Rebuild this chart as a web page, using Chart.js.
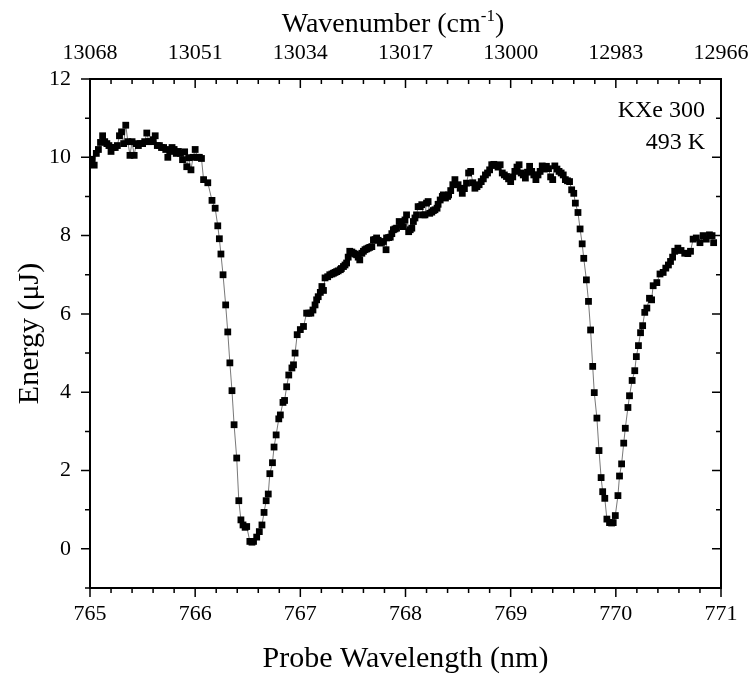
<!DOCTYPE html>
<html>
<head>
<meta charset="utf-8">
<script src="https://cdn.jsdelivr.net/npm/chart.js@4.4.0/dist/chart.umd.min.js"></script>
<style>
  body { margin: 0; background: #fff; }
</style>
</head>
<body>
<canvas id="chart" width="754" height="678"></canvas>
<script>
// probe wavelength (nm) and pulse energy (uJ)
const wavelength = [
  765.02, 765.04, 765.06, 765.08, 765.10, 765.12, 765.14, 765.16, 765.18, 765.20,
  765.22, 765.24, 765.26, 765.28, 765.30, 765.32, 765.34, 765.36, 765.38, 765.40,
  765.42, 765.44, 765.46, 765.48, 765.50, 765.52, 765.54, 765.56, 765.58, 765.60,
  765.62, 765.64, 765.66, 765.68, 765.70, 765.72, 765.74, 765.76, 765.78, 765.80,
  765.82, 765.84, 765.86, 765.88, 765.90, 765.92, 765.94, 765.96, 765.98, 766.00,
  766.02, 766.04, 766.06,
  766.08, 766.12, 766.16, 766.19, 766.215, 766.23, 766.245, 766.265, 766.29, 766.31,
  766.33, 766.35, 766.37, 766.395, 766.415, 766.435, 766.455, 766.475, 766.49, 766.52,
  766.54, 766.555, 766.585, 766.61, 766.635, 766.655, 766.675, 766.695, 766.71, 766.735,
  766.75, 766.77, 766.795, 766.81, 766.835, 766.85, 766.87, 766.89, 766.92, 766.935,
  766.95, 766.97, 767.00, 767.03, 767.06, 767.08, 767.10, 767.12, 767.14, 767.155,
  767.17, 767.19, 767.205, 767.22, 767.235, 767.26, 767.28, 767.30, 767.315, 767.33,
  767.345, 767.36, 767.38, 767.39, 767.41, 767.425, 767.44, 767.455, 767.47, 767.49,
  767.505, 767.52, 767.535, 767.55, 767.565, 767.585, 767.60, 767.615, 767.63, 767.645,
  767.66, 767.68, 767.695, 767.71, 767.725, 767.74, 767.76, 767.775, 767.79, 767.815,
  767.82, 767.84, 767.855, 767.87, 767.885, 767.90, 767.915, 767.94, 767.96, 767.98,
  767.995, 768.01, 768.03, 768.045, 768.06, 768.075, 768.09, 768.105, 768.12, 768.14,
  768.155, 768.17, 768.185, 768.20, 768.215, 768.23, 768.25, 768.265, 768.28, 768.30,
  768.31, 768.33, 768.35, 768.36, 768.38, 768.40, 768.41, 768.43, 768.45, 768.47,
  768.50, 768.52, 768.54, 768.56, 768.58, 768.60, 768.62, 768.64, 768.66, 768.68,
  768.70, 768.72, 768.74, 768.76, 768.78, 768.80, 768.82, 768.84, 768.86, 768.88,
  768.90, 768.92, 768.94, 768.96, 768.98, 769.00, 769.02, 769.04, 769.06, 769.08,
  769.10, 769.12, 769.14, 769.16, 769.18, 769.20, 769.22, 769.24, 769.26, 769.28,
  769.30, 769.32, 769.34, 769.36, 769.38, 769.40, 769.42, 769.44, 769.46, 769.48,
  769.50, 769.52, 769.54, 769.56, 769.58, 769.60, 769.615, 769.64, 769.66, 769.68,
  769.695, 769.72, 769.74, 769.76, 769.78, 769.795, 769.82, 769.84, 769.86, 769.875,
  769.895, 769.915, 769.94, 769.96, 769.975, 769.995, 770.02, 770.035, 770.055, 770.075,
  770.09, 770.115, 770.13, 770.155, 770.18, 770.195, 770.215, 770.235, 770.255, 770.275,
  770.295, 770.32, 770.34, 770.355, 770.39, 770.42, 770.45, 770.475, 770.50, 770.52,
  770.54, 770.56, 770.59, 770.62, 770.655, 770.685, 770.71, 770.735, 770.765, 770.80,
  770.83, 770.86, 770.89, 770.915, 770.93
]
const energy = [
  9.95, 9.80, 10.10, 10.20, 10.38, 10.55, 10.40, 10.35, 10.30, 10.15,
  10.25, 10.25, 10.30, 10.55, 10.65, 10.35, 10.82, 10.40, 10.05, 10.40,
  10.05, 10.35, 10.30, 10.35, 10.35, 10.40, 10.62, 10.40, 10.40, 10.45,
  10.55, 10.30, 10.30, 10.25, 10.25, 10.20, 10.00, 10.15, 10.25, 10.20,
  10.10, 10.15, 10.10, 9.94, 10.14, 9.76, 9.99, 9.68, 10.00, 10.20,
  10.00, 10.00, 9.97,
  9.43, 9.35, 8.90, 8.70, 8.25, 7.92, 7.53, 7.00, 6.23, 5.54,
  4.75, 4.04, 3.17, 2.32, 1.23, 0.74, 0.61, 0.55, 0.57, 0.19,
  0.17, 0.19, 0.30, 0.44, 0.61, 0.93, 1.23, 1.40, 1.92, 2.20,
  2.60, 2.91, 3.32, 3.42, 3.74, 3.79, 4.14, 4.44, 4.62, 4.70,
  5.00, 5.47, 5.60, 5.68, 6.02, 6.02, 6.02, 6.10, 6.23, 6.36,
  6.44, 6.55, 6.70, 6.60, 6.92, 6.95, 7.00, 7.02, 7.04, 7.06,
  7.08, 7.10, 7.13, 7.16, 7.21, 7.25, 7.30, 7.45, 7.60, 7.58,
  7.55, 7.53, 7.51, 7.45, 7.38, 7.55, 7.60, 7.64, 7.66, 7.68,
  7.70, 7.72, 7.89, 7.90, 7.94, 7.88, 7.81, 7.83, 7.85, 7.64,
  7.94, 7.95, 7.96, 8.05, 8.15, 8.17, 8.19, 8.36, 8.28, 8.23,
  8.40, 8.53, 8.10, 8.15, 8.19, 8.36, 8.45, 8.53, 8.74, 8.74,
  8.79, 8.53, 8.53, 8.83, 8.87, 8.57, 8.60, 8.64, 8.66, 8.70,
  8.80, 8.91, 9.00, 9.04, 8.96, 9.00, 9.04, 9.15, 9.30, 9.43,
  9.30, 9.21, 9.08, 9.20, 9.34, 9.60, 9.64, 9.35, 9.21, 9.25,
  9.30, 9.38, 9.45, 9.55, 9.60, 9.68, 9.81, 9.82, 9.79, 9.75,
  9.81, 9.60, 9.55, 9.51, 9.45, 9.38, 9.50, 9.64, 9.75, 9.81,
  9.60, 9.55, 9.47, 9.62, 9.77, 9.64, 9.55, 9.43, 9.55, 9.64,
  9.78, 9.70, 9.77, 9.71, 9.50, 9.43, 9.78, 9.70, 9.64, 9.60,
  9.55, 9.43, 9.40, 9.38, 9.17, 9.08, 8.83, 8.59, 8.17, 7.79,
  7.42, 6.87, 6.32, 5.59, 4.66, 3.99, 3.34, 2.51, 1.82, 1.46,
  1.29, 0.76, 0.67, 0.66, 0.67, 0.85, 1.36, 1.86, 2.17, 2.70,
  3.08, 3.61, 3.91, 4.30, 4.55, 4.91, 5.19, 5.52, 5.70, 6.04,
  6.15, 6.40, 6.36, 6.72, 6.80, 7.02, 7.06, 7.17, 7.25, 7.34,
  7.45, 7.60, 7.68, 7.62, 7.55, 7.54, 7.60, 7.91, 7.94, 7.82,
  8.00, 7.91, 8.02, 8.00, 7.82
]

const bottomTicks = [765, 766, 767, 768, 769, 770, 771]
const topTickLabels = ['13068', '13051', '13034', '13017', '13000', '12983', '12966']
const yTicks = [0, 2, 4, 6, 8, 10, 12]
const sampleLabel = ['KXe 300', '493 K']

const serif = '"Liberation Serif", "Times New Roman", serif'
Chart.defaults.font.family = serif
Chart.defaults.color = '#000'

// outer frame ticks (major + minor), labels in the corner and the top title
const frameExtras = {
  id: 'frameExtras',
  afterDraw(chart) {
    const ctx = chart.ctx
    const a = chart.chartArea
    const sx = chart.scales.x
    const sy = chart.scales.y
    ctx.save()
    ctx.strokeStyle = '#000'
    ctx.lineWidth = 1.5
    ctx.beginPath()
    for (let i = 0; i <= 30; i++) {
      const px = sx.getPixelForValue(765 + i * 0.2)
      const len = i % 5 === 0 ? 9 : 5
      ctx.moveTo(px, a.bottom)
      ctx.lineTo(px, a.bottom + len)
      ctx.moveTo(px, a.top)
      ctx.lineTo(px, a.top + len)
    }
    for (let v = -1; v <= 12; v++) {
      const py = sy.getPixelForValue(v)
      const len = v % 2 === 0 ? 9 : 5
      ctx.moveTo(a.left, py)
      ctx.lineTo(a.left - len, py)
      ctx.moveTo(a.right, py)
      ctx.lineTo(a.right - len, py)
    }
    ctx.stroke()

    ctx.fillStyle = '#000'
    ctx.font = '24px ' + serif
    ctx.textAlign = 'right'
    ctx.textBaseline = 'alphabetic'
    ctx.fillText(sampleLabel[0], 705, 117)
    ctx.fillText(sampleLabel[1], 705, 149)

    // "Wavenumber (cm-1)" with a raised -1
    const big = '28px ' + serif
    const small = '17px ' + serif
    const part1 = 'Wavenumber (cm'
    const sup = '-1'
    const part2 = ')'
    ctx.font = big
    const w1 = ctx.measureText(part1).width
    const w3 = ctx.measureText(part2).width
    ctx.font = small
    const w2 = ctx.measureText(sup).width
    let x0 = 393 - (w1 + w2 + w3) / 2
    ctx.textAlign = 'left'
    ctx.font = big
    ctx.fillText(part1, x0, 32)
    ctx.font = small
    ctx.fillText(sup, x0 + w1, 21)
    ctx.font = big
    ctx.fillText(part2, x0 + w1 + w2, 32)
    ctx.restore()
  }
}

const points = wavelength.map((w, i) => ({ x: w, y: energy[i] }))

function fixHeight(h) {
  return s => {
    s.height = h
    s.paddingLeft = 0
    s.paddingRight = 0
  }
}

function fixWidth(w) {
  return s => {
    s.width = w
    s.paddingTop = 0
    s.paddingBottom = 0
  }
}

new Chart(document.getElementById('chart'), {
  type: 'scatter',
  data: {
    datasets: [{
      data: points,
      showLine: true,
      borderColor: '#555',
      borderWidth: 0.8,
      pointStyle: 'rect',
      pointRadius: 4.8,
      pointBackgroundColor: '#000',
      pointBorderColor: '#000',
      pointBorderWidth: 0
    }]
  },
  options: {
    responsive: false,
    animation: false,
    devicePixelRatio: 1,
    layout: { padding: 0 },
    plugins: {
      legend: { display: false },
      tooltip: { enabled: false }
    },
    scales: {
      x: {
        type: 'linear',
        position: 'bottom',
        min: 765,
        max: 771,
        afterBuildTicks: s => { s.ticks = bottomTicks.map(v => ({ value: v })) },
        afterFit: fixHeight(90),
        grid: { display: false, drawTicks: false },
        border: { display: true, color: '#000', width: 2 },
        ticks: { font: { size: 22 }, padding: 13, maxRotation: 0 },
        title: {
          display: true,
          text: 'Probe Wavelength (nm)',
          font: { size: 30 },
          padding: { top: 0, bottom: 1 }
        }
      },
      x2: {
        type: 'linear',
        position: 'top',
        min: 765,
        max: 771,
        afterBuildTicks: s => { s.ticks = bottomTicks.map(v => ({ value: v })) },
        afterFit: fixHeight(79),
        grid: { display: false, drawTicks: false },
        border: { display: true, color: '#000', width: 2 },
        ticks: {
          font: { size: 22 },
          padding: 13,
          maxRotation: 0,
          callback: (value, index) => topTickLabels[index]
        }
      },
      y: {
        type: 'linear',
        position: 'left',
        min: -1,
        max: 12,
        afterBuildTicks: s => { s.ticks = yTicks.map(v => ({ value: v })) },
        afterFit: fixWidth(90),
        grid: { display: false, drawTicks: false },
        border: { display: true, color: '#000', width: 2 },
        ticks: { font: { size: 22 }, padding: 19 },
        title: {
          display: true,
          text: 'Energy (μJ)',
          font: { size: 30 },
          padding: { top: 12, bottom: 0 }
        }
      },
      y2: {
        type: 'linear',
        position: 'right',
        min: -1,
        max: 12,
        afterFit: fixWidth(33),
        grid: { display: false, drawTicks: false },
        border: { display: true, color: '#000', width: 2 },
        ticks: { display: false }
      }
    }
  },
  plugins: [frameExtras]
})
</script>
</body>
</html>
